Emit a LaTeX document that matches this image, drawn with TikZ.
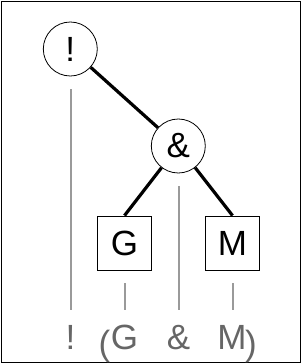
\documentclass[tikz,border=0pt]{standalone}
\usepackage{fontspec}
\setmainfont{Liberation Sans}
\definecolor{guide}{HTML}{9A9A9A}
\definecolor{tok}{HTML}{666666}
\tikzset{
  opnode/.style={circle,draw,line width=0.8pt,minimum size=54pt,inner sep=0pt,font=\fontsize{35}{42}\selectfont},
  leafnode/.style={rectangle,draw,line width=0.9pt,minimum size=54pt,inner sep=0pt,font=\fontsize{35}{42}\selectfont},
  treeedge/.style={line width=3.2pt,black},
  guideline/.style={line width=2pt,guide},
  token/.style={anchor=base,inner sep=0pt,text=tok,font=\fontsize{35}{42}\selectfont},
}
\begin{document}
\begin{tikzpicture}[x=1pt,y=-1pt]
\useasboundingbox (0,0) rectangle (302,364);
\draw[line width=1.3pt] (1.5,1.2) rectangle (300.3,362.3);
\node[opnode] (not) at (70.3,49) {!};
\node[opnode] (and) at (178.3,146) {\&};
\node[leafnode] (g) at (124.5,243) {G};
\node[leafnode] (m) at (232.5,243) {M};
\draw[treeedge] (not) -- (and);
\draw[treeedge] (and) -- (g.north);
\draw[treeedge] (and) -- (m.north);
\node[token] (tnot) at (70.5,349) {!};
\node[token] (tlp) at (104.5,355) {(};
\node[token] (tg) at (124.5,349) {G};
\node[token] (tand) at (178.5,349) {\&};
\node[token] (tm) at (232,349) {M};
\node[token] (trp) at (251,355) {)};
\coordinate (a1) at (70.5,89);
\coordinate (b1) at (70.5,310);
\coordinate (a2) at (179,186);
\coordinate (b2) at (179,310);
\coordinate (a3) at (125,283);
\coordinate (b3) at (125,310);
\coordinate (a4) at (232.7,283);
\coordinate (b4) at (232.7,310);
\draw[guideline] (a1) -- (b1);
\draw[guideline] (a2) -- (b2);
\draw[guideline] (a3) -- (b3);
\draw[guideline] (a4) -- (b4);
\end{tikzpicture}
\end{document}
